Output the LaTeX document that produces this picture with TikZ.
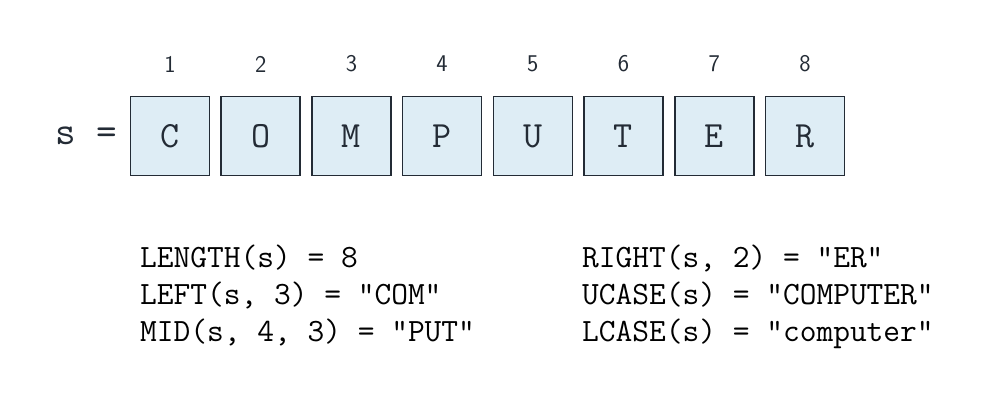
\documentclass[tikz,border=0pt]{standalone}
\usepackage{fontspec}
\definecolor{ink}{HTML}{232B35}
\definecolor{cellfill}{HTML}{DEEDF5}
\begin{document}
\begin{tikzpicture}[x=1pt,y=-1pt,
  cell/.style={draw=ink,line width=1.6pt,fill=cellfill,minimum width=79pt,minimum height=79pt,inner sep=0pt,
    font=\ttfamily\fontsize{37}{37}\selectfont,text=ink},
  idx/.style={font=\sffamily\fontsize{24}{24}\selectfont,text=ink},
  code/.style={anchor=base west,font=\ttfamily\fontsize{32.5}{32.5}\selectfont,text=black,inner sep=0pt}]
\useasboundingbox (0,0) rectangle (991,401);
\node[font=\ttfamily\fontsize{40}{40}\selectfont,text=ink,anchor=east,inner sep=0pt] (s) at (117,136) {s =};
\foreach \ch [count=\i] in {C,O,M,P,U,T,E,R} {
  \node[cell] (c\i) at ({170+(\i-1)*90.7},136) {\ch};
  \node[idx] (n\i) at ({170+(\i-1)*90.7},64) {\i};
}
\node[code] (l1) at (140,267) {LENGTH(s) = 8};
\node[code] (l2) at (140,304) {LEFT(s, 3) = "COM"};
\node[code] (l3) at (140,341) {MID(s, 4, 3) = "PUT"};
\node[code] (r1) at (582,267) {RIGHT(s, 2) = "ER"};
\node[code] (r2) at (582,304) {UCASE(s) = "COMPUTER"};
\node[code] (r3) at (582,341) {LCASE(s) = "computer"};
\end{tikzpicture}
\end{document}
